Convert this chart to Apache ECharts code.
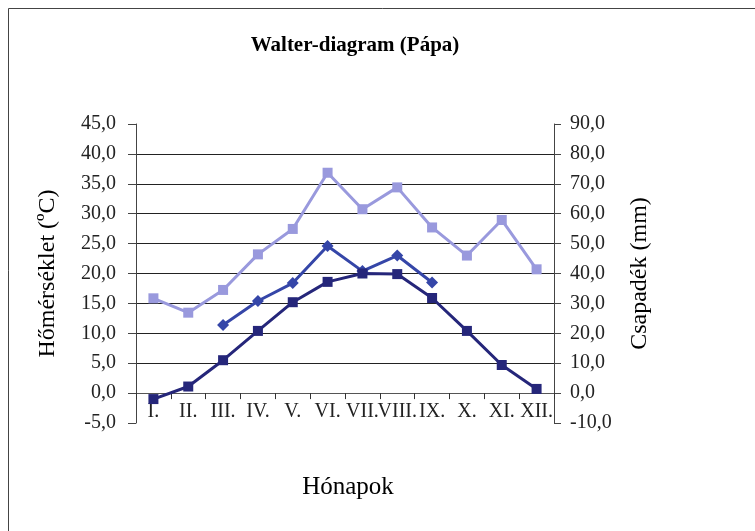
<!DOCTYPE html>
<html>
<head>
<meta charset="utf-8">
<script src="https://cdn.jsdelivr.net/npm/echarts@6/dist/echarts.min.js"></script>
<style>html,body{margin:0;padding:0;background:#fff;}#c{width:755px;height:531px;}</style>
</head>
<body>
<div id="c"></div>
<script>
const months = ['I.', 'II.', 'III.', 'IV.', 'V.', 'VI.', 'VII.', 'VIII.', 'IX.', 'X.', 'XI.', 'XII.'];
const temperature = [-1.0, 1.1, 5.5, 10.4, 15.2, 18.6, 20.0, 19.9, 15.9, 10.4, 4.7, 0.7];
const vegetation = [null, null, 11.4, 15.4, 18.4, 24.6, 20.4, 23.0, 18.5, null, null, null];
const precipitation = [31.7, 26.9, 34.5, 46.4, 54.9, 73.7, 61.5, 68.8, 55.4, 46.0, 57.9, 41.4];

const FONT = 'Liberation Serif';
const fmt = v => v.toFixed(1).replace('.', ',');

const chart = echarts.init(document.getElementById('c'), null, {renderer: 'canvas'});
chart.setOption({
  backgroundColor: '#fff',
  animation: false,
  title: {
    text: 'Walter-diagram (Pápa)',
    left: 350, top: 30, textAlign: 'center',
    textStyle: {fontFamily: FONT, fontSize: 21, fontWeight: 'bold', color: '#000'}
  },
  graphic: [
    {type: 'rect', shape: {x: 8.5, y: 8.5, width: 800, height: 600}, style: {fill: null, stroke: '#444', lineWidth: 1}},
    {type: 'text', style: {text: 'Hónapok', x: 348, y: 475, fontFamily: FONT, fontSize: 25, fill: '#000', textAlign: 'center'}}
  ],
  grid: {left: 136, right: 201, top: 124, bottom: 108, containLabel: false},
  xAxis: {
    type: 'category',
    data: months,
    boundaryGap: true,
    offset: -29.9,
    axisLine: {show: true, onZero: false, lineStyle: {color: '#555', width: 1}},
    axisTick: {show: true, length: 6, lineStyle: {color: '#333', width: 1}},
    axisLabel: {interval: 0, margin: 9, fontFamily: FONT, fontSize: 20, color: '#222', hideOverlap: false},
    splitLine: {show: false}
  },
  yAxis: [
    {
      type: 'value', min: -5, max: 45, interval: 5, position: 'left',
      name: 'Hőmérséklet (ºC)', nameLocation: 'middle', nameGap: 76, nameRotate: 90,
      nameTextStyle: {fontFamily: FONT, fontSize: 24, color: '#000'},
      axisLine: {show: true, lineStyle: {color: '#444'}},
      axisTick: {show: true, length: 8, lineStyle: {color: '#444'}},
      axisLabel: {formatter: fmt, margin: 20, fontFamily: FONT, fontSize: 20, color: '#222'},
      splitLine: {show: true, showMinLine: false, showMaxLine: false, lineStyle: {color: '#222', width: 1}}
    },
    {
      type: 'value', min: -10, max: 90, interval: 10, position: 'right',
      name: 'Csapadék (mm)', nameLocation: 'middle', nameGap: 74, nameRotate: 90,
      nameTextStyle: {fontFamily: FONT, fontSize: 24, color: '#000'},
      axisLine: {show: true, lineStyle: {color: '#444'}},
      axisTick: {show: true, length: 7, lineStyle: {color: '#444'}},
      axisLabel: {formatter: fmt, margin: 16, fontFamily: FONT, fontSize: 20, color: '#222'},
      splitLine: {show: false}
    }
  ],
  series: [
    {
      name: 'Csapadék', type: 'line', yAxisIndex: 1, data: precipitation,
      symbol: 'rect', symbolSize: 10,
      lineStyle: {color: '#9999dd', width: 3}, itemStyle: {color: '#9999dd'}
    },
    {
      name: 'Vegetáció', type: 'line', yAxisIndex: 0, data: vegetation,
      symbol: 'diamond', symbolSize: 12, connectNulls: false,
      lineStyle: {color: '#3546a8', width: 3}, itemStyle: {color: '#3546a8'}
    },
    {
      name: 'Hőmérséklet', type: 'line', yAxisIndex: 0, data: temperature,
      symbol: 'rect', symbolSize: 10,
      lineStyle: {color: '#25267a', width: 3}, itemStyle: {color: '#25267a'}
    }
  ]
});
</script>
</body>
</html>
